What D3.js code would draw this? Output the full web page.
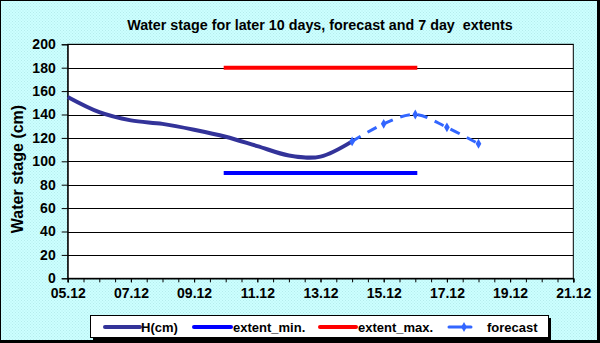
<!DOCTYPE html>
<html>
<head>
<meta charset="utf-8">
<script src="https://d3js.org/d3.v7.min.js"></script>
<style>
  body { margin: 0; }
  svg text { font-family: Arial, "Liberation Sans", sans-serif; font-weight: bold; fill: #000; }
</style>
</head>
<body>
<script>
// data
var hDates = ["05.12","06.12","07.12","08.12","09.12","10.12","11.12","12.12","13.12","14.12"];
var hValues = [155, 142, 135, 132, 127, 121, 113, 105, 104, 117];
var forecastDates = ["14.12","15.12","16.12","17.12","18.12"];
var forecastValues = [117, 132, 140, 129, 115];
var extentDates = ["10.12","11.12","12.12","13.12","14.12","15.12","16.12"];
var extentMin = [90, 90, 90, 90, 90, 90, 90];
var extentMax = [180, 180, 180, 180, 180, 180, 180];
var yTicks = [0, 20, 40, 60, 80, 100, 120, 140, 160, 180, 200];
var axisStart = "05.12", axisEnd = "21.12";

var W = 600, H = 343;
var plot = {left: 67.7, right: 573.3, top: 44.3, bottom: 278.3};
var parse = d3.timeParse("%d.%m");
var fmt = d3.timeFormat("%d.%m");

var svg = d3.select("body").append("svg").attr("width", W).attr("height", H);

// dotted light cyan background
var defs = svg.append("defs");
var pat = defs.append("pattern").attr("id", "dots").attr("width", 3).attr("height", 3)
  .attr("patternUnits", "userSpaceOnUse");
pat.append("rect").attr("width", 3).attr("height", 3).attr("fill", "#ccffff");
pat.append("rect").attr("width", 1).attr("height", 1).attr("fill", "#b5ecec");
pat.append("rect").attr("x", 1.5).attr("y", 1.5).attr("width", 1).attr("height", 1).attr("fill", "#b5ecec");

svg.append("rect").attr("x", 0).attr("y", 0).attr("width", W).attr("height", H).attr("fill", "#000");
svg.append("rect").attr("x", 1).attr("y", 1).attr("width", W - 4).attr("height", H - 4).attr("fill", "url(#dots)");

var x = d3.scaleTime().domain([parse(axisStart), parse(axisEnd)]).range([plot.left, plot.right]);
var y = d3.scaleLinear().domain([0, 200]).range([plot.bottom, plot.top]);

// plot area
svg.append("rect").attr("x", plot.left).attr("y", plot.top)
  .attr("width", plot.right - plot.left).attr("height", plot.bottom - plot.top)
  .attr("fill", "#fff").attr("stroke", "#000").attr("stroke-width", 1);

// gridlines
svg.append("g").selectAll("line").data(yTicks).enter().append("line")
  .attr("x1", plot.left).attr("x2", plot.right)
  .attr("y1", function(d) { return Math.round(y(d)) + 0.5; })
  .attr("y2", function(d) { return Math.round(y(d)) + 0.5; })
  .attr("stroke", "#000").attr("stroke-width", 1);

// y axis
var yAxis = d3.axisLeft(y).tickValues(yTicks).tickSize(6).tickPadding(6);
var gy = svg.append("g").attr("transform", "translate(" + plot.left + ",0)").call(yAxis);
gy.selectAll("text").style("font-size", "14px");

// x axis: minor ticks every 12h, labels every 2 days
var xAxisMinor = d3.axisBottom(x).ticks(d3.timeHour.every(12)).tickSize(4).tickFormat("");
svg.append("g").attr("transform", "translate(0," + plot.bottom + ")").call(xAxisMinor);
var xAxis = d3.axisBottom(x).ticks(d3.timeDay.every(2)).tickSize(4).tickPadding(6).tickFormat(fmt);
var gx = svg.append("g").attr("transform", "translate(0," + plot.bottom + ")").call(xAxis);
gx.selectAll("text").style("font-size", "14px");
svg.selectAll(".domain").attr("stroke", "#000");
svg.selectAll(".tick line").attr("stroke", "#000");

// series
var smooth = d3.line()
  .x(function(d) { return x(d.date); })
  .y(function(d) { return y(d.value); })
  .curve(d3.curveCardinal.tension(0));

function rows(dates, values) {
  return dates.map(function(d, i) { return {date: parse(d), value: values[i]}; });
}

svg.append("path").datum(rows(extentDates, extentMax)).attr("d", smooth)
  .attr("fill", "none").attr("stroke", "#ff0000").attr("stroke-width", 4).attr("stroke-linecap", "square");
svg.append("path").datum(rows(extentDates, extentMin)).attr("d", smooth)
  .attr("fill", "none").attr("stroke", "#0000ff").attr("stroke-width", 4).attr("stroke-linecap", "square");
svg.append("path").datum(rows(hDates, hValues)).attr("d", smooth)
  .attr("fill", "none").attr("stroke", "#333399").attr("stroke-width", 4);
var fc = rows(forecastDates, forecastValues);
svg.append("path").datum(fc).attr("d", smooth)
  .attr("fill", "none").attr("stroke", "#3366ff").attr("stroke-width", 3).attr("stroke-dasharray", "10,8");
svg.append("g").selectAll("path").data(fc).enter().append("path")
  .attr("d", d3.symbol().type(d3.symbolDiamond).size(28))
  .attr("transform", function(d) { return "translate(" + x(d.date) + "," + y(d.value) + ")"; })
  .attr("fill", "#3366ff");

// title
svg.append("text").attr("x", 320).attr("y", 30).attr("text-anchor", "middle")
  .style("font-size", "14.3px").style("white-space", "pre")
  .text("Water stage for later 10 days, forecast and 7 day  extents");

// y axis title
svg.append("text").attr("transform", "translate(23,169) rotate(-90)").attr("text-anchor", "middle")
  .style("font-size", "16px").text("Water stage (cm)");

// legend
var lg = svg.append("g");
lg.append("rect").attr("x", 93).attr("y", 318).attr("width", 458).attr("height", 22).attr("fill", "#000");
lg.append("rect").attr("x", 90.5).attr("y", 315.5).attr("width", 458).attr("height", 22)
  .attr("fill", "#fff").attr("stroke", "#000");
var items = [
  {name: "H(cm)", color: "#333399", x1: 105, x2: 140, tx: 141, dash: null},
  {name: "extent_min.", color: "#0000ff", x1: 194, x2: 231, tx: 233, dash: null},
  {name: "extent_max.", color: "#ff0000", x1: 320, x2: 356, tx: 358, dash: null},
  {name: "forecast", color: "#3366ff", x1: 449, x2: 471, tx: 487, dash: true}
];
items.forEach(function(it) {
  lg.append("line").attr("x1", it.x1).attr("x2", it.x2).attr("y1", 327).attr("y2", 327)
    .attr("stroke", it.color).attr("stroke-width", it.dash ? 3 : 4).attr("stroke-linecap", "round");
  if (it.dash) {
    lg.append("path").attr("d", d3.symbol().type(d3.symbolDiamond).size(28))
      .attr("transform", "translate(464,327)").attr("fill", it.color);
  }
  lg.append("text").attr("x", it.tx).attr("y", 332).style("font-size", "13px").text(it.name);
});
</script>
</body>
</html>
